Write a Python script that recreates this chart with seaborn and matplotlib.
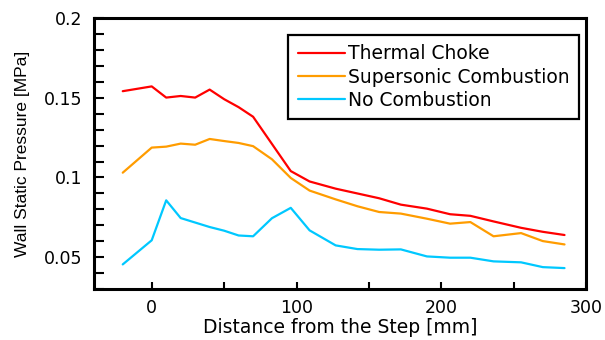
import pandas as pd
import matplotlib
matplotlib.use("Agg")
import matplotlib.pyplot as plt
from matplotlib.ticker import MultipleLocator
import seaborn as sns

# === DONNÉES ===
distance = [-20, 0, 10, 20, 30, 40, 50, 60, 70, 83, 96, 109, 127, 142,
            157, 172, 190, 206, 220, 236, 255, 270, 285]
thermal_choke = [0.154, 0.157, 0.150, 0.151, 0.150, 0.155, 0.149, 0.144, 0.138,
                 0.121, 0.104, 0.0975, 0.093, 0.090, 0.087, 0.083, 0.0805, 0.077,
                 0.076, 0.0725, 0.0685, 0.066, 0.064]
supersonic = [0.103, 0.1187, 0.1193, 0.1212, 0.1205, 0.1241, 0.1228, 0.1216, 0.1196,
              0.1114, 0.0997, 0.0918, 0.0863, 0.082, 0.0784, 0.0774, 0.0742, 0.0711,
              0.0721, 0.0632, 0.0652, 0.0602, 0.0581]
no_combustion = [0.0456, 0.0607, 0.0857, 0.0746, 0.0718, 0.069, 0.0667, 0.0637, 0.0632,
                 0.0745, 0.081, 0.0669, 0.0575, 0.0552, 0.0548, 0.055, 0.0506, 0.0498,
                 0.0498, 0.0475, 0.0469, 0.0439, 0.0433]
cases = ["Thermal Choke", "Supersonic Combustion", "No Combustion"]
couleurs = ["#ff0000", "#ff9c00", "#00c8ff"]

df = pd.DataFrame({"Distance": distance,
                   cases[0]: thermal_choke,
                   cases[1]: supersonic,
                   cases[2]: no_combustion})
df_long = df.melt(id_vars="Distance", var_name="Case", value_name="Pressure")

# === FIGURE ===
sns.set_style("white")
plt.rcParams['font.family'] = ['DejaVu Sans']
plt.rcParams['text.color'] = 'black'
plt.rcParams['axes.labelcolor'] = 'black'

fig = plt.figure(figsize=(6.05, 3.4), dpi=100)
ax = fig.add_axes([0.155, 0.149, 0.814, 0.799])

sns.lineplot(data=df_long, x="Distance", y="Pressure", hue="Case",
             hue_order=cases, palette=couleurs, linewidth=1.6, ax=ax)

ax.set_xlim(-40, 300)
ax.set_ylim(0.03, 0.2)
ax.xaxis.set_minor_locator(MultipleLocator(50))
ax.yaxis.set_minor_locator(MultipleLocator(0.01))
ax.set_xticks([0, 100, 200, 300])
ax.set_xticklabels(["0", "100", "200", "300"])
ax.set_yticks([0.05, 0.1, 0.15, 0.2])
ax.set_yticklabels(["0.05", "0.1", "0.15", "0.2"])

ax.tick_params(axis="both", which="both", direction="in", width=1.5,
               colors="black", labelsize=12.5)
ax.tick_params(axis="x", which="both", length=5, pad=7, bottom=True, top=False)
ax.tick_params(axis="y", which="both", length=7, pad=8, left=True, right=False)

for spine in ax.spines.values():
    spine.set_linewidth(2.2)
    spine.set_color("black")

ax.set_xlabel("Distance from the Step [mm]", fontsize=13.5, labelpad=1)
ax.set_ylabel("Wall Static Pressure [MPa]", fontsize=12.5,
              family=["Liberation Sans", "DejaVu Sans"], labelpad=10)

leg = ax.legend(loc="upper right", bbox_to_anchor=(0.986, 0.936),
                fontsize=13.5, frameon=True, fancybox=False, framealpha=1,
                handlelength=2.5, handletextpad=0.2, borderpad=0.5,
                labelspacing=0.22, borderaxespad=0)
leg.get_frame().set_edgecolor("black")
leg.get_frame().set_linewidth(1.6)
for line in leg.get_lines():
    line.set_linewidth(1.6)

fig.savefig("out.png", dpi=100)
